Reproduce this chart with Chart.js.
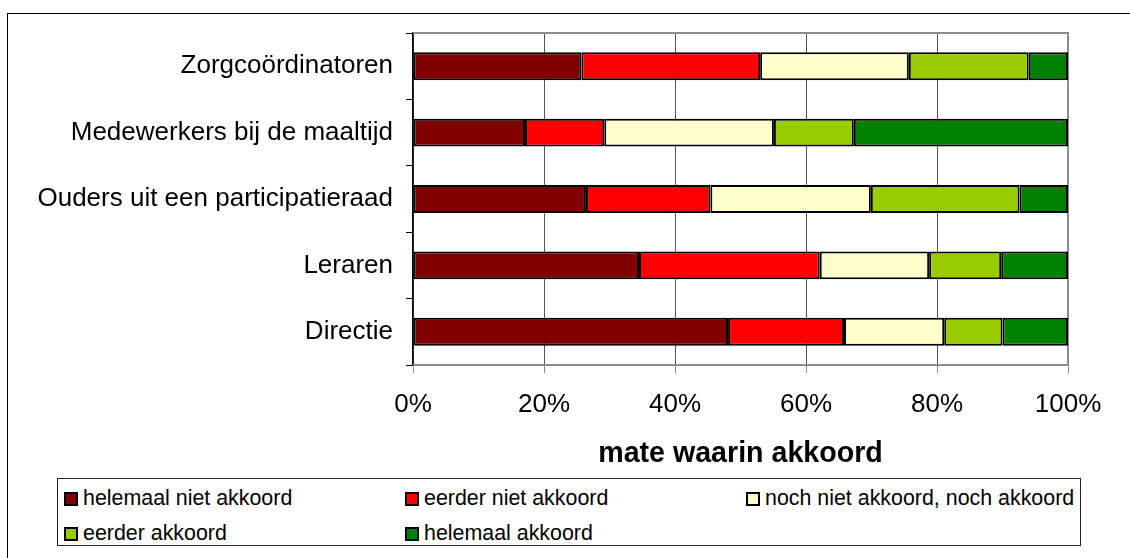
<!DOCTYPE html>
<html>
<head>
<meta charset="utf-8">
<script src="https://cdn.jsdelivr.net/npm/chart.js@4"></script>
<style>
    body { margin: 0; background: #fff; overflow: hidden; }
    #wrap { position: relative; width: 1130px; height: 558px; font-family: Arial, "Liberation Sans", sans-serif; }
    #chart { position: absolute; left: 0; top: 0; }
    #legend {
        position: absolute; left: 57px; top: 478px; width: 1024px; height: 68px;
        border: 1px solid #222; background: #fff; box-sizing: border-box;
        display: grid; grid-template-columns: 341px 341px 341px; grid-auto-rows: 35px;
        padding: 2px 0 0 6px;
    }
    .item { display: flex; align-items: center; font-size: 21.4px; color: #000; white-space: nowrap; }
    .swatch { width: 10px; height: 10px; border: 2px solid #000; margin-right: 5px; }
</style>
</head>
<body>
<div id="wrap">
    <canvas id="chart" width="1130" height="558"></canvas>
    <div id="legend"></div>
</div>
<script>
const categories = ['Zorgcoördinatoren', 'Medewerkers bij de maaltijd', 'Ouders uit een participatieraad', 'Leraren', 'Directie'];
const seriesNames = ['helemaal niet akkoord', 'eerder niet akkoord', 'noch niet akkoord, noch akkoord', 'eerder akkoord', 'helemaal akkoord'];
const seriesColors = ['#800000', '#ff0000', '#ffffcc', '#99cc00', '#008000'];

const helemaalNiet = [25.7, 17.1, 26.4, 34.5, 48.1];
const eerderNiet = [27.3, 12.1, 19.0, 27.6, 17.7];
const neutraal = [22.7, 25.9, 24.5, 16.7, 15.3];
const eerderAkkoord = [18.3, 12.2, 22.7, 11.0, 8.9];
const helemaalAkkoord = [6.0, 32.7, 7.4, 10.2, 10.0];

const xTicks = [0, 20, 40, 60, 80, 100];
const xTitle = 'mate waarin akkoord';

const seriesValues = [helemaalNiet, eerderNiet, neutraal, eerderAkkoord, helemaalAkkoord];

// outer frame + grey plot border (top, right, bottom)
const framePlugin = {
    id: 'frame',
    beforeDatasetsDraw(chart) {
        const { ctx, chartArea: a } = chart;
        ctx.save();
        ctx.strokeStyle = '#8c8c8c';
        ctx.lineWidth = 2;
        ctx.beginPath();
        ctx.moveTo(a.left, a.top);
        ctx.lineTo(a.right, a.top);
        ctx.lineTo(a.right, a.bottom);
        ctx.lineTo(a.left, a.bottom);
        ctx.stroke();
        ctx.restore();
    },
    afterDraw(chart) {
        const ctx = chart.ctx;
        ctx.save();
        ctx.strokeStyle = '#000';
        ctx.lineWidth = 1;
        ctx.strokeRect(7.5, 13.5, 2000, 2000);
        ctx.restore();
    }
};

const datasets = seriesNames.map((name, i) => ({
    label: name,
    data: seriesValues[i],
    backgroundColor: seriesColors[i],
    borderColor: '#000',
    borderWidth: 2,
    borderSkipped: false,
    categoryPercentage: 0.42,
    barPercentage: 1
}));

new Chart(document.getElementById('chart').getContext('2d'), {
    type: 'bar',
    data: { labels: categories, datasets: datasets },
    options: {
        indexAxis: 'y',
        responsive: false,
        animation: false,
        layout: { padding: { top: 33, right: 62, bottom: 83, left: 0 } },
        plugins: { legend: { display: false }, tooltip: { enabled: false } },
        scales: {
            x: {
                stacked: true,
                min: 0,
                max: 100,
                afterBuildTicks(scale) { scale.ticks = xTicks.map(v => ({ value: v })); },
                afterFit(scale) { scale.height = 110; },
                grid: { color: '#555', lineWidth: 1, tickLength: 8, tickColor: '#8c8c8c' },
                border: { display: false },
                ticks: {
                    padding: 16,
                    color: '#000',
                    font: { family: 'Arial, "Liberation Sans"', size: 26 },
                    callback: v => v + '%'
                },
                title: {
                    display: true,
                    text: xTitle,
                    color: '#000',
                    padding: { top: 0, bottom: 4 },
                    font: { family: 'Arial, "Liberation Sans"', size: 28.6, weight: 'bold' }
                }
            },
            y: {
                stacked: true,
                afterFit(scale) { scale.width = 413; },
                grid: { offset: true, drawOnChartArea: false, tickLength: 7, color: '#000', lineWidth: 1 },
                border: { color: '#000', width: 1.5 },
                ticks: {
                    padding: 13,
                    color: '#000',
                    font: { family: 'Arial, "Liberation Sans"', size: 26 }
                }
            }
        }
    },
    plugins: [framePlugin]
});

// legend box built from the same series arrays
const legendDiv = document.getElementById('legend');
seriesNames.forEach((name, i) => {
    legendDiv.innerHTML += `<div class="item"><span class="swatch" style="background:${seriesColors[i]}"></span>${name}</div>`;
});
</script>
</body>
</html>
